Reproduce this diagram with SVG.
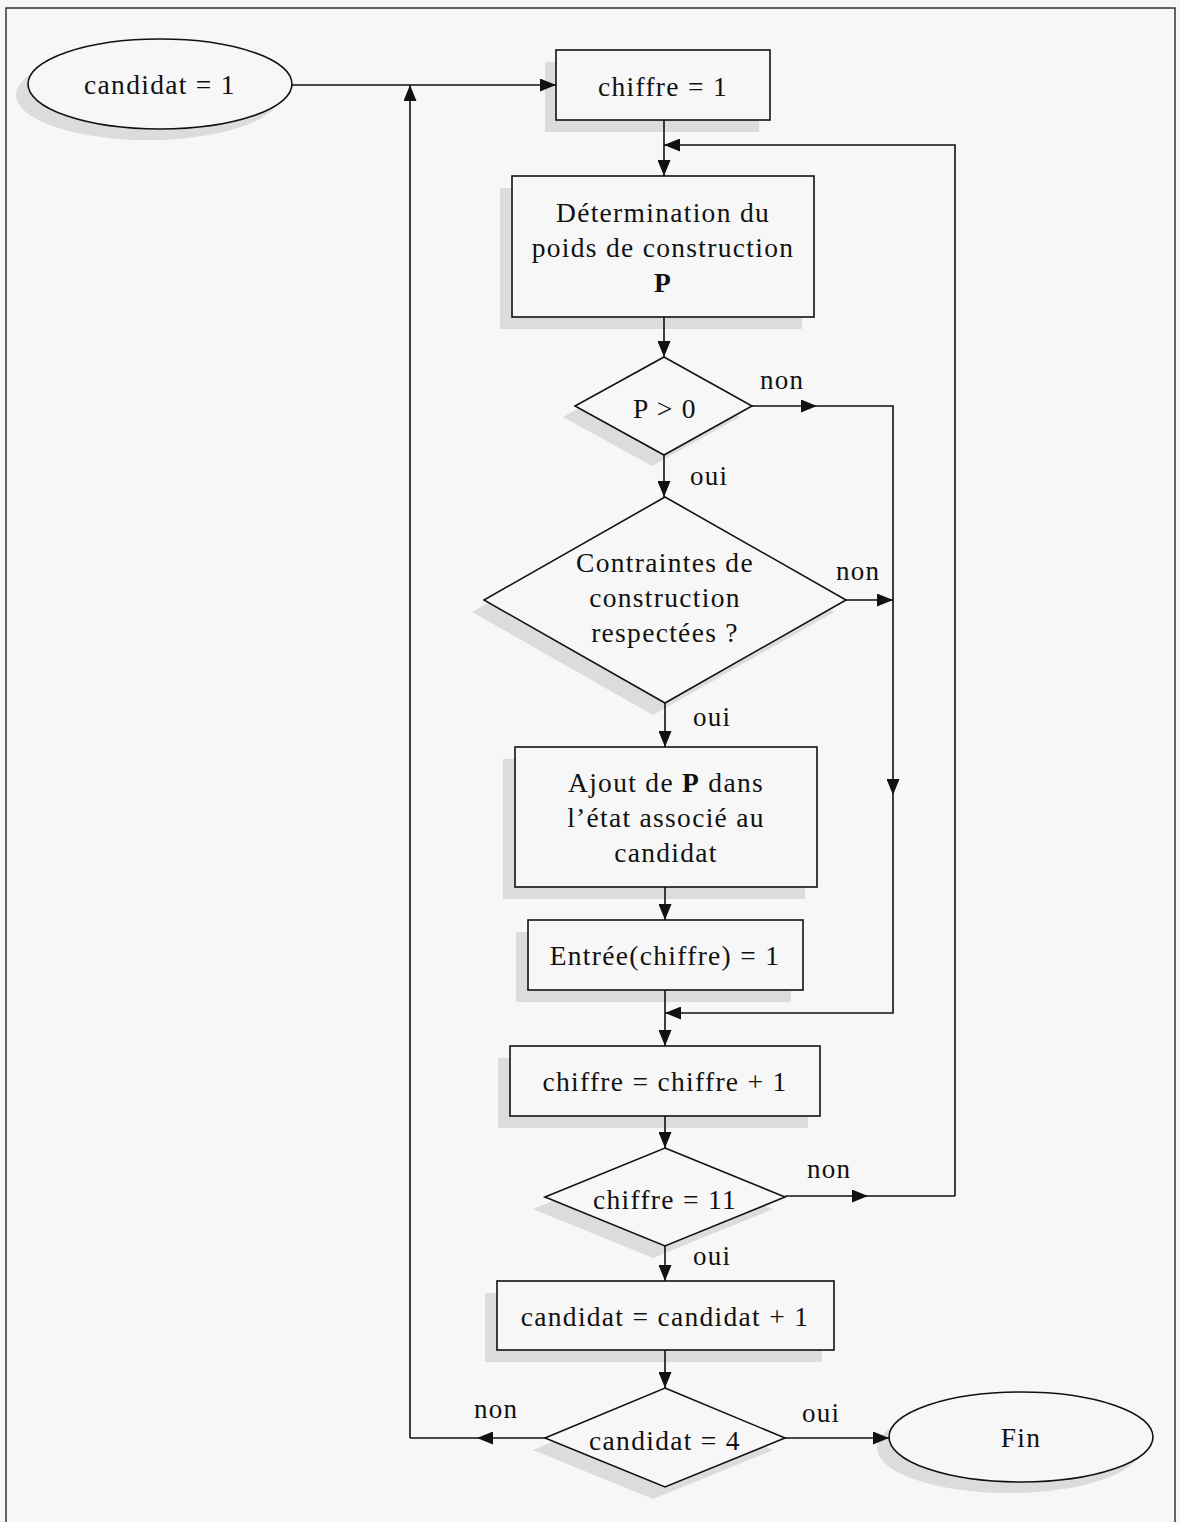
<svg xmlns="http://www.w3.org/2000/svg" width="1180" height="1522" viewBox="0 0 1180 1522">
<style>
.bg{fill:#f7f7f7}
.frame{fill:none;stroke:#333;stroke-width:1.5}
.sh{fill:#dcdcdc;stroke:none}
.nd{fill:#f7f7f7;stroke:#111;stroke-width:1.6}
.t{font-family:"Liberation Serif","Times New Roman",serif;font-size:27.5px;letter-spacing:1.3px;fill:#111;text-anchor:middle}
.lb{font-family:"Liberation Serif","Times New Roman",serif;font-size:27px;letter-spacing:1.2px;fill:#111}
.c{fill:none;stroke:#111;stroke-width:1.6}
</style>
<defs>
<marker id="ah" viewBox="0 0 16 13" refX="16" refY="6.5" markerWidth="16" markerHeight="13" markerUnits="userSpaceOnUse" orient="auto">
<path d="M0,0 L16,6.5 L0,13 Z" fill="#111"/>
</marker>
</defs>
<rect class="bg" x="0" y="0" width="1180" height="1522"/>
<rect class="frame" x="6" y="8" width="1169" height="1530"/>

<g id="start">
<ellipse class="sh" cx="148" cy="95" rx="132" ry="45"/>
<ellipse class="nd" cx="160" cy="84" rx="132" ry="45"/>
<text class="t" x="160" y="94">candidat = 1</text>
</g>

<g id="chiffre1">
<rect class="sh" x="545" y="62" width="214" height="70"/>
<rect class="nd" x="556" y="50" width="214" height="70"/>
<text class="t" x="663" y="96">chiffre = 1</text>
</g>

<g id="determination">
<rect class="sh" x="500" y="188" width="302" height="141"/>
<rect class="nd" x="512" y="176" width="302" height="141"/>
<text class="t" x="663" y="222">Détermination du</text>
<text class="t" x="663" y="257">poids de construction</text>
<text class="t" x="663" y="292" font-weight="bold">P</text>
</g>

<g id="p_positif">
<polygon class="sh" points="652,368 740,417 652,466 563,417"/>
<polygon class="nd" points="664,357 752,406 664,455 575,406"/>
<text class="t" x="665" y="418">P &gt; 0</text>
</g>

<g id="contraintes">
<polygon class="sh" points="653,509 834,612 653,715 472,612"/>
<polygon class="nd" points="665,497 846,600 665,703 484,600"/>
<text class="t" x="665" y="572">Contraintes de</text>
<text class="t" x="665" y="607">construction</text>
<text class="t" x="665" y="642">respectées ?</text>
</g>

<g id="ajout">
<rect class="sh" x="503" y="759" width="302" height="140"/>
<rect class="nd" x="515" y="747" width="302" height="140"/>
<text class="t" x="666" y="792">Ajout de <tspan font-weight="bold">P</tspan> dans</text>
<text class="t" x="666" y="827">l’état associé au</text>
<text class="t" x="666" y="862">candidat</text>
</g>

<g id="entree">
<rect class="sh" x="516" y="932" width="275" height="70"/>
<rect class="nd" x="528" y="920" width="275" height="70"/>
<text class="t" x="665" y="965">Entrée(chiffre) = 1</text>
</g>

<g id="increment_chiffre">
<rect class="sh" x="498" y="1058" width="310" height="70"/>
<rect class="nd" x="510" y="1046" width="310" height="70"/>
<text class="t" x="665" y="1091">chiffre = chiffre + 1</text>
</g>

<g id="chiffre11">
<polygon class="sh" points="653,1160 773,1209 653,1258 533,1209"/>
<polygon class="nd" points="665,1148 785,1197 665,1246 545,1197"/>
<text class="t" x="665" y="1209">chiffre = 11</text>
</g>

<g id="increment_candidat">
<rect class="sh" x="485" y="1293" width="337" height="69"/>
<rect class="nd" x="497" y="1281" width="337" height="69"/>
<text class="t" x="665" y="1326">candidat = candidat + 1</text>
</g>

<g id="candidat4">
<polygon class="sh" points="653,1400 773,1450 653,1499 533,1450"/>
<polygon class="nd" points="665,1388 785,1438 665,1487 545,1438"/>
<text class="t" x="665" y="1450">candidat = 4</text>
</g>

<g id="fin">
<ellipse class="sh" cx="1009" cy="1448" rx="132" ry="45"/>
<ellipse class="nd" cx="1021" cy="1437" rx="132" ry="45"/>
<text class="t" x="1021" y="1447">Fin</text>
</g>

<g id="connectors">
<path class="c" d="M292,85 H556" marker-end="url(#ah)"/>
<path class="c" d="M410,1438 V85" marker-end="url(#ah)"/>
<path class="c" d="M664,120 V176" marker-end="url(#ah)"/>
<path class="c" d="M955,1196 V145 H664" marker-end="url(#ah)"/>
<path class="c" d="M664,317 V357" marker-end="url(#ah)"/>
<path class="c" d="M752,406 H817" marker-end="url(#ah)"/>
<path class="c" d="M817,406 H893 V795" marker-end="url(#ah)"/>
<path class="c" d="M893,795 V1013 H665" marker-end="url(#ah)"/>
<path class="c" d="M664,455 V497" marker-end="url(#ah)"/>
<path class="c" d="M846,600 H893" marker-end="url(#ah)"/>
<path class="c" d="M665,703 V747" marker-end="url(#ah)"/>
<path class="c" d="M665,887 V920" marker-end="url(#ah)"/>
<path class="c" d="M665,990 V1046" marker-end="url(#ah)"/>
<path class="c" d="M665,1116 V1148" marker-end="url(#ah)"/>
<path class="c" d="M785,1196 H868" marker-end="url(#ah)"/>
<path class="c" d="M868,1196 H955"/>
<path class="c" d="M665,1246 V1281" marker-end="url(#ah)"/>
<path class="c" d="M665,1350 V1388" marker-end="url(#ah)"/>
<path class="c" d="M545,1438 H477" marker-end="url(#ah)"/>
<path class="c" d="M477,1438 H410"/>
<path class="c" d="M785,1438 H889" marker-end="url(#ah)"/>
<text class="lb" x="760" y="389">non</text>
<text class="lb" x="690" y="485">oui</text>
<text class="lb" x="836" y="580">non</text>
<text class="lb" x="693" y="726">oui</text>
<text class="lb" x="807" y="1178">non</text>
<text class="lb" x="693" y="1265">oui</text>
<text class="lb" x="474" y="1418">non</text>
<text class="lb" x="802" y="1422">oui</text>
</g>
</svg>
